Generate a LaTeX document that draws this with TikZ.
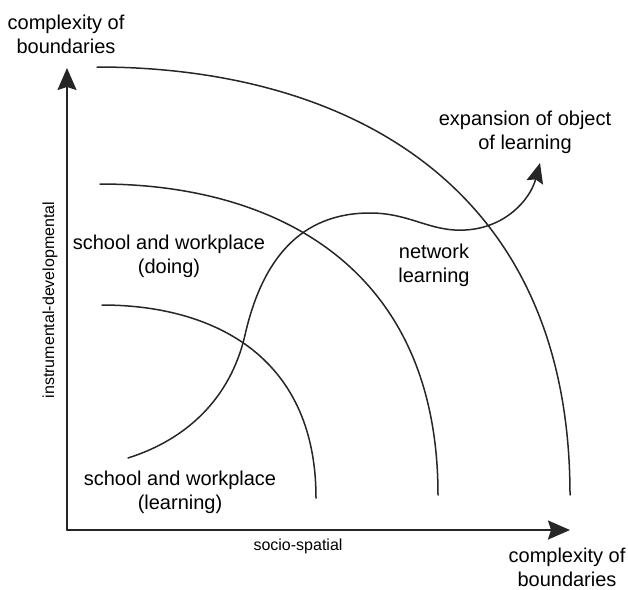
\documentclass[tikz,border=0pt]{standalone}
\usepackage{fontspec}
\setmainfont{Liberation Sans}
\usetikzlibrary{arrows, arrows.meta}
\usetikzlibrary{calc}

\begin{document}
\begin{tikzpicture}[x=1pt, y=-1pt, line cap=round,
    lbl/.style={align=center, inner sep=0pt, font=\fontsize{20}{24}\selectfont},
    axlbl/.style={inner sep=0pt, font=\fontsize{16}{19}\selectfont},
    axis/.style={line width=1.9pt, draw=black!85, -{Stealth[length=22pt, width=19pt, inset=3pt]}},
    ring/.style={line width=1.5pt, draw=black!85}]
    \useasboundingbox (0,0) rectangle (628,589);

    % axes
    \coordinate (o) at (67,530);
    \coordinate (ytip) at (67,68);
    \coordinate (xtip) at (570,530);
    \draw[axis] (o) -- (ytip);
    \draw[axis] (o) -- (xtip);

    % boundaries
    \coordinate (a1) at (102,305);
    \coordinate (a2) at (316,498);
    \coordinate (b1) at (100,184);
    \coordinate (b2) at (438,495);
    \coordinate (c1) at (97,67);
    \coordinate (c2) at (570,495);
    \draw[ring] (a1) .. controls (209,305) and (316,353) .. (a2);
    \draw[ring] (b1) .. controls (269,184) and (438,262) .. (b2);
    \draw[ring] (c1) .. controls (333,67) and (570,174) .. (c2);

    % expansion
    \coordinate (s0) at (128,458);
    \coordinate (s1) at (540,163);
    \draw[ring, -{Stealth[length=20pt, width=17pt, inset=3pt]}] (s0)
        .. controls (185,440) and (230,400) .. (245,335)
        .. controls (262,260) and (300,213) .. (370,213)
        .. controls (410,213) and (430,232) .. (465,230)
        .. controls (505,228) and (530,200) .. (s1);

    \node[lbl] (ytop) at (66,34) {complexity of\\boundaries};
    \node[lbl] (xend) at (567,567) {complexity of\\boundaries};
    \node[lbl] (exp) at (525,132) {expansion of object\\of learning};
    \node[lbl] (doing) at (169,256) {school and workplace\\(doing)};
    \node[lbl] (net) at (434,265) {network\\learning};
    \node[lbl] (learn) at (180,492) {school and workplace\\(learning)};
    \node[axlbl] (soc) at (298,546) {socio-spatial};
    \node[axlbl, rotate=90] (inst) at (50,300) {instrumental-developmental};
\end{tikzpicture}
\end{document}
